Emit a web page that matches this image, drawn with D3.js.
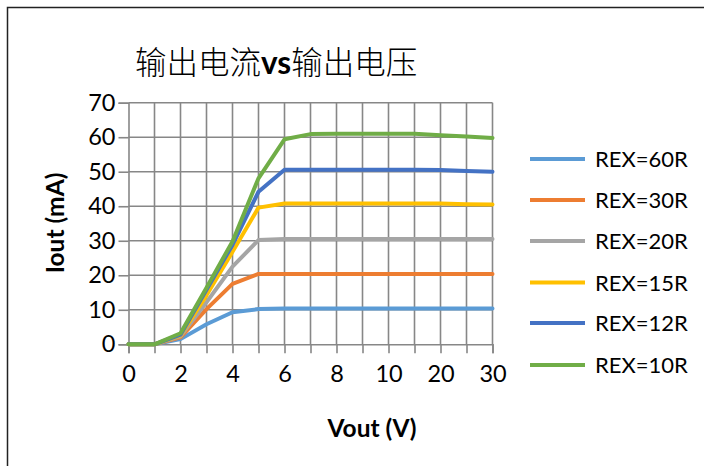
<!DOCTYPE html>
<html><head><meta charset="utf-8">
<script src="https://cdn.jsdelivr.net/npm/d3@7"></script>
<style>body{margin:0;background:#fff;}svg{display:block;}</style>
</head><body>
<svg id="c" width="704" height="466"></svg>
<script>
const categories = ["0","1","2","3","4","5","6","7","8","9","10","15","20","25","30"];
const seriesNames = ["REX=60R","REX=30R","REX=20R","REX=15R","REX=12R","REX=10R"];
const rex60 = [0,0,1.5,5.8,9.3,10.2,10.4,10.4,10.4,10.4,10.4,10.4,10.4,10.4,10.4];
const rex30 = [0,0,2.0,10.2,17.5,20.4,20.4,20.4,20.4,20.4,20.4,20.4,20.4,20.4,20.4];
const rex20 = [0,0,2.3,12.2,22.5,30.2,30.5,30.5,30.5,30.5,30.5,30.5,30.5,30.5,30.5];
const rex15 = [0,0,2.6,14.2,26.8,39.6,40.8,40.8,40.8,40.8,40.8,40.8,40.8,40.6,40.5];
const rex12 = [0,0,2.8,15.8,28.8,44.2,50.6,50.6,50.6,50.6,50.6,50.6,50.5,50.2,50.0];
const rex10 = [0,0,3.2,16.4,29.8,48.1,59.4,60.9,61.0,61.0,61.0,61.0,60.6,60.2,59.8];
const yTicks = [0,10,20,30,40,50,60,70];
const xLabelEvery = 2;
const colors = ["#5B9BD5","#ED7D31","#A5A5A5","#FFC000","#4472C4","#70AD47"];
const allSeries = [rex60, rex30, rex20, rex15, rex12, rex10];

const svg = d3.select("#c");
const font = "Lato, 'Open Sans', sans-serif";

// chart frame
svg.append("rect").attr("x",7.5).attr("y",7.5).attr("width",720).attr("height",480)
  .attr("fill","#fff").attr("stroke","#222").attr("stroke-width",1.5);

const x = d3.scalePoint().domain(categories).range([128.5, 492.5]);
const y = d3.scaleLinear().domain([0,70]).range([344.3, 102.7]);

// gridlines
const g = svg.append("g");
g.selectAll(".hg").data(yTicks.filter(d=>d>0)).join("line")
  .attr("x1",128.5).attr("x2",492.5).attr("y1",d=>y(d)).attr("y2",d=>y(d))
  .attr("stroke","#878787").attr("stroke-width",1.6);
g.selectAll(".vg").data(categories.slice(1)).join("line")
  .attr("x1",d=>x(d)).attr("x2",d=>x(d)).attr("y1",y(0)).attr("y2",y(70))
  .attr("stroke","#878787").attr("stroke-width",1.6);

// y axis
const yAxis = d3.axisLeft(y).tickValues(yTicks).tickSize(10).tickPadding(3);
const ya = svg.append("g").attr("transform","translate(128.5,0)").call(yAxis);
ya.select(".domain").attr("stroke","#878787").attr("stroke-width",1.6);
ya.selectAll(".tick line").attr("stroke","#878787").attr("stroke-width",1.6);
ya.selectAll(".tick text").attr("font-family",font).attr("font-size",23.5).attr("fill","#000");

// x axis
const xAxis = d3.axisBottom(x).tickSize(9).tickPadding(12)
  .tickFormat((d,i)=> i % xLabelEvery === 0 ? d : "");
const xa = svg.append("g").attr("transform",`translate(0,${y(0)})`).call(xAxis);
xa.select(".domain").attr("stroke","#878787").attr("stroke-width",1.6);
xa.selectAll(".tick line").attr("stroke","#878787").attr("stroke-width",1.6);
xa.selectAll(".tick text").attr("font-family",font).attr("font-size",23.5).attr("fill","#000");

// lines
const line = d3.line().x((d,i)=>x(categories[i])).y(d=>y(d));
svg.append("g").selectAll("path").data(allSeries).join("path")
  .attr("d",line).attr("fill","none").attr("stroke",(d,i)=>colors[i])
  .attr("stroke-width",4).attr("stroke-linejoin","round").attr("stroke-linecap","round");

// title
const t = svg.append("text").attr("x",135).attr("y",74).attr("font-size",31.5)
  .attr("fill","#000").attr("font-weight",300).attr("font-family","'Noto Sans CJK SC', sans-serif");
t.append("tspan").text("输出电流");
t.append("tspan").text("vs").attr("font-weight","bold").attr("font-family",font);
t.append("tspan").text("输出电压");

// axis titles
svg.append("text").attr("x",372).attr("y",437).attr("text-anchor","middle")
  .attr("font-family",font).attr("font-weight","bold").attr("font-size",24.5).text("Vout (V)");
svg.append("text").attr("transform","translate(64,223) rotate(-90)").attr("text-anchor","middle")
  .attr("font-family",font).attr("font-weight","bold").attr("font-size",24.5).text("Iout (mA)");

// legend
const legY = [159,200,241,282.5,323,365];
const lg = svg.append("g").selectAll("g").data(seriesNames).join("g")
  .attr("transform",(d,i)=>`translate(0,${legY[i]})`);
lg.append("line").attr("x1",530).attr("x2",585).attr("stroke",(d,i)=>colors[i]).attr("stroke-width",4);
lg.append("text").attr("x",595).attr("y",8).attr("font-family",font).attr("font-size",22)
  .attr("fill","#000").text(d=>d);
</script>
</body></html>
